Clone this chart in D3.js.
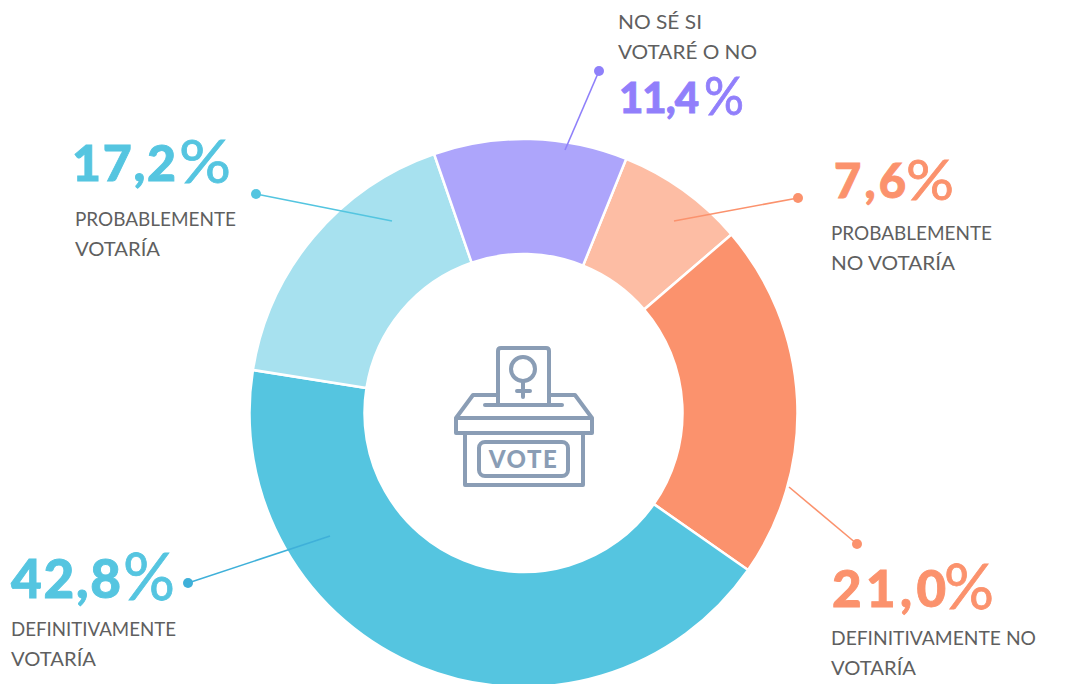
<!DOCTYPE html>
<html lang="es"><head>
<meta charset="utf-8">
<title>Intención de voto</title>
<script src="https://cdnjs.cloudflare.com/ajax/libs/d3/7.8.5/d3.min.js"></script>
<style>
html, body { margin: 0; background: #fff; }
svg { display: block; }
text { font-family: Lato, "Noto Sans", sans-serif; }
.pct { font-weight: 900; stroke-width: 0.9px; }
.sign { font-weight: 400; stroke-width: 0.8px; }
.cat { font-size: 19.5px; fill: #5f5f5f; }
</style>
</head>
<body>
<div id="chart"></div>
<script>
// order is clockwise, starting from the slice right of "no se si"
var categories = [["PROBABLEMENTE", "NO VOTARÍA"], ["DEFINITIVAMENTE NO", "VOTARÍA"], ["DEFINITIVAMENTE", "VOTARÍA"], ["PROBABLEMENTE", "VOTARÍA"], ["NO SÉ SI", "VOTARÉ O NO"]];
var values = [7.6, 21.0, 42.8, 17.2, 11.4];
var sliceColors = ["#fdbda4", "#fb926d", "#55c5e0", "#a7e1ef", "#ada5fb"];
var pctColors = ["#fb926d", "#fb926d", "#55c5e0", "#55c5e0", "#917ffb"];
var lineColors = ["#fb926d", "#fb926d", "#3fb0d9", "#54c5e0", "#8f80fa"];

// label and leader placement, page px: [pctX, pctY, catX, catY, dotX, dotY, endX, endY]
var placement = [
  [834, 198, 831, 240, 798, 198, 674, 221],
  [832, 607, 831, 645, 857, 544, 789, 487],
  [11, 598, 11, 636, 188, 583, 330, 536],
  [72, 181, 75, 226, 256, 194, 392, 221],
  [619, 113, 618, 29, 599, 71, 565, 150]
];
var pctSizes = [47, 51, 53, 50, 42];
var signSizes = [56, 61, 66, 60, 53];
// measured widths, the original face has other proportions than anything installed
var digitWidths = [72, 114, 110, 104, 80];
var signX = [906, 944, 123, 179, 704];
var signWidths = [48, 50, 52, 52, 40];
var catWidths = [[161, 124], [205, 85], [165, 85], [161, 85], [84, 139]];

var width = 1076, height = 684;
var cx = 523.5, cy = 413, outerR = 274, innerR = 159;
var iconColor = "#8a9db5";

var svg = d3.select("#chart").append("svg").attr("width", width).attr("height", height);

var pie = d3.pie().sort(null).value(function(d) { return d; })
  .startAngle(22 * Math.PI / 180).endAngle((22 + 360) * Math.PI / 180);
var arc = d3.arc().innerRadius(innerR).outerRadius(outerR);

svg.append("g").attr("transform", "translate(" + cx + "," + cy + ")")
  .selectAll("path").data(pie(values)).enter().append("path")
  .attr("d", arc)
  .attr("fill", function(d, i) { return sliceColors[i]; })
  .attr("stroke", "#fff")
  .attr("stroke-width", 2.5);

// leaders
var leaders = svg.append("g");
leaders.selectAll("line").data(placement).enter().append("line")
  .attr("x1", function(d) { return d[4]; }).attr("y1", function(d) { return d[5]; })
  .attr("x2", function(d) { return d[6]; }).attr("y2", function(d) { return d[7]; })
  .attr("stroke", function(d, i) { return lineColors[i]; })
  .attr("stroke-width", 1.6);
leaders.selectAll("circle").data(placement).enter().append("circle")
  .attr("cx", function(d) { return d[4]; }).attr("cy", function(d) { return d[5]; })
  .attr("r", 5)
  .attr("fill", function(d, i) { return lineColors[i]; });

// labels, the % sign is thin and larger than the digits
var labels = svg.append("g");
labels.selectAll("text.pct").data(values).enter().append("text")
  .attr("class", "pct")
  .attr("x", function(d, i) { return placement[i][0]; })
  .attr("y", function(d, i) { return placement[i][1]; })
  .attr("fill", function(d, i) { return pctColors[i]; })
  .attr("stroke", function(d, i) { return pctColors[i]; })
  .attr("font-size", function(d, i) { return pctSizes[i]; })
  .attr("textLength", function(d, i) { return digitWidths[i]; })
  .attr("lengthAdjust", "spacing")
  .text(function(d) { return d.toFixed(1).replace(".", ","); });
labels.selectAll("text.sign").data(values).enter().append("text")
  .attr("class", "sign")
  .attr("x", function(d, i) { return signX[i]; })
  .attr("y", function(d, i) { return placement[i][1] + 2; })
  .attr("fill", function(d, i) { return pctColors[i]; })
  .attr("stroke", function(d, i) { return pctColors[i]; })
  .attr("font-size", function(d, i) { return signSizes[i]; })
  .attr("textLength", function(d, i) { return signWidths[i]; })
  .attr("lengthAdjust", "spacingAndGlyphs")
  .text("%");

categories.forEach(function(lines, i) {
  lines.forEach(function(t, j) {
    svg.append("text").attr("class", "cat")
      .attr("x", placement[i][2])
      .attr("y", placement[i][3] + j * 30)
      .attr("textLength", catWidths[i][j])
      .attr("lengthAdjust", "spacingAndGlyphs")
      .text(t);
  });
});

// ballot box icon
var icon = svg.append("g").attr("fill", "none").attr("stroke", iconColor)
  .attr("stroke-width", 4).attr("stroke-linecap", "round").attr("stroke-linejoin", "round");
icon.append("path").attr("d", "M498,403V351q0-3 3-3h45q3 0 3 3V403");
icon.append("path").attr("d", "M485,405H562");
icon.append("path").attr("d", "M497,395H473L456,418V433H592V418L575,395H549M456,418H592");
icon.append("path").attr("d", "M465,433V485H583V433");
icon.append("rect").attr("x", 479).attr("y", 442).attr("width", 89).attr("height", 34).attr("rx", 6);
icon.append("circle").attr("cx", 523).attr("cy", 369).attr("r", 12);
icon.append("path").attr("d", "M523,381V397M517,391H530");
svg.append("text").attr("x", 523.5).attr("y", 468).attr("text-anchor", "middle")
  .attr("font-size", 24).attr("font-weight", 900).attr("letter-spacing", 1.5)
  .attr("fill", iconColor).text("VOTE");
</script>
</body></html>
